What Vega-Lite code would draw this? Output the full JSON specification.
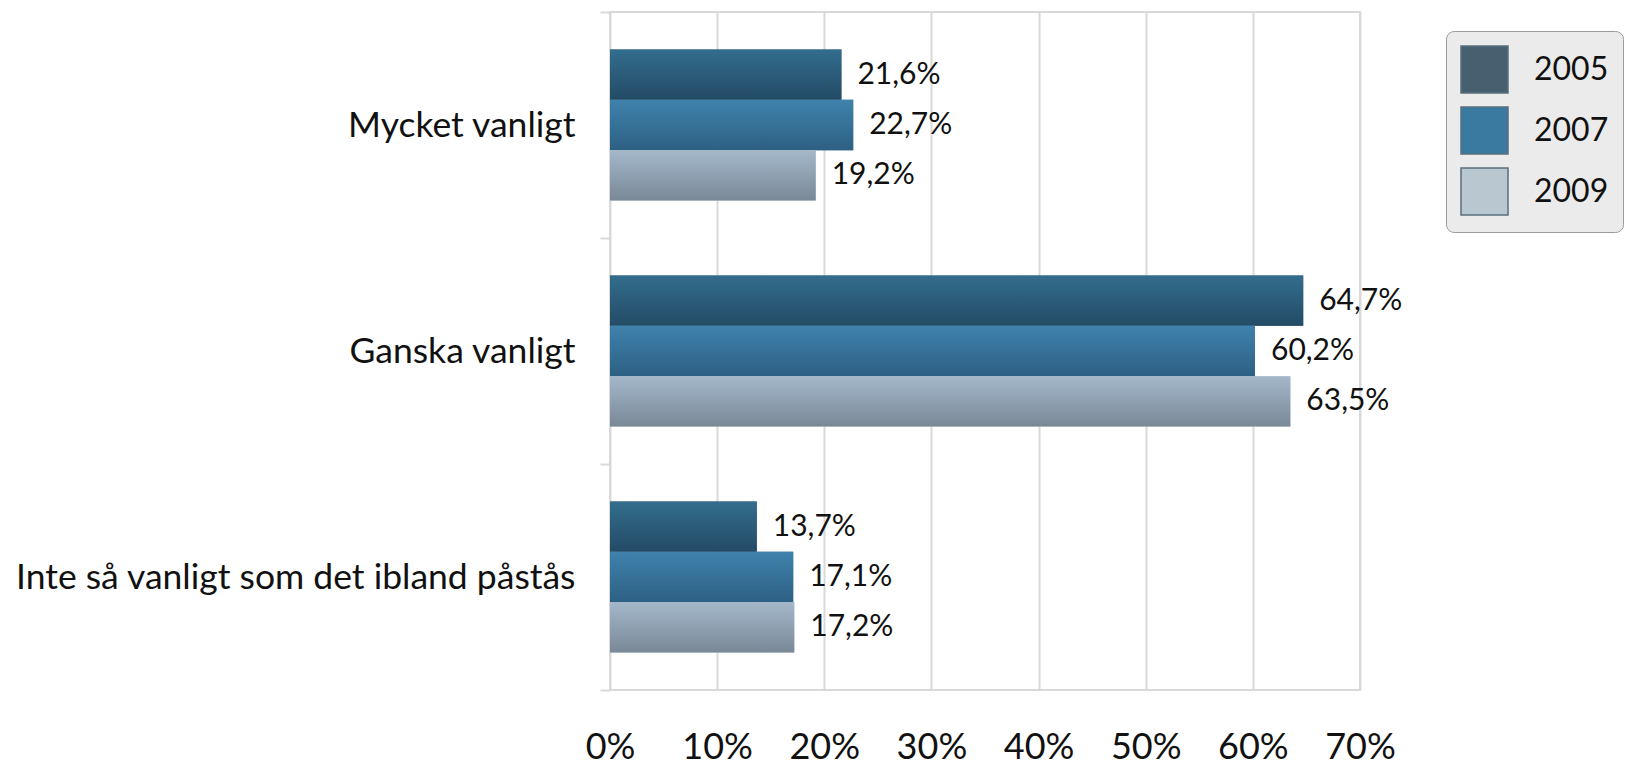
{
  "$schema": "https://vega.github.io/schema/vega-lite/v6.json",
  "autosize": {"type": "none"},
  "width": 750,
  "height": 678,
  "padding": {"left": 610, "top": 12, "right": 270, "bottom": 75},
  "background": "white",
  "config": {
    "locale": {"number": {"decimal": ",", "thousands": " ", "grouping": [3], "currency": ["", " kr"]}},
    "font": "Lato",
    "view": {"stroke": "#d9d9d9", "strokeWidth": 2}
  },
  "data": {
    "values": [
      {"category": "Mycket vanligt", "year": "2005", "value": 0.216},
      {"category": "Mycket vanligt", "year": "2007", "value": 0.227},
      {"category": "Mycket vanligt", "year": "2009", "value": 0.192},
      {"category": "Ganska vanligt", "year": "2005", "value": 0.647},
      {"category": "Ganska vanligt", "year": "2007", "value": 0.602},
      {"category": "Ganska vanligt", "year": "2009", "value": 0.635},
      {"category": "Inte så vanligt som det ibland påstås", "year": "2005", "value": 0.137},
      {"category": "Inte så vanligt som det ibland påstås", "year": "2007", "value": 0.171},
      {"category": "Inte så vanligt som det ibland påstås", "year": "2009", "value": 0.172}
    ]
  },
  "encoding": {
    "y": {
      "field": "category",
      "type": "nominal",
      "sort": ["Mycket vanligt", "Ganska vanligt", "Inte så vanligt som det ibland påstås"],
      "scale": {"paddingInner": 0, "paddingOuter": 0},
      "axis": {
        "title": null,
        "domain": false,
        "grid": false,
        "ticks": true,
        "tickBand": "extent",
        "tickColor": "#d9d9d9",
        "tickWidth": 2,
        "tickSize": 10,
        "labelFontSize": 35.5,
        "labelColor": "#111111",
        "labelPadding": 25,
        "labelLimit": 700
      }
    },
    "yOffset": {
      "field": "year",
      "type": "nominal",
      "scale": {"domain": ["2005", "2007", "2009"], "paddingInner": 0, "paddingOuter": 0.745}
    },
    "x": {
      "field": "value",
      "type": "quantitative",
      "scale": {"domain": [0, 0.7], "nice": false},
      "axis": {
        "title": null,
        "values": [0, 0.1, 0.2, 0.3, 0.4, 0.5, 0.6, 0.7],
        "format": ".0%",
        "domain": false,
        "ticks": false,
        "grid": true,
        "gridColor": "#d9d9d9",
        "gridWidth": 2,
        "labelFontSize": 36,
        "labelColor": "#111111",
        "labelPadding": 40,
        "labelFlush": false
      }
    }
  },
  "layer": [
    {
      "mark": {"type": "bar"},
      "encoding": {
        "color": {
          "field": "year",
          "type": "nominal",
          "scale": {"domain": ["2005", "2007", "2009"], "range": ["#46606f", "#3a7aa1", "#b9c7d0"]},
          "legend": {
            "title": null,
            "orient": "none",
            "legendX": 836,
            "legendY": 19,
            "symbolType": "square",
            "symbolSize": 2209,
            "symbolStrokeColor": "#5a6f7e",
            "symbolStrokeWidth": 1.5,
            "symbolOpacity": 1,
            "labelFontSize": 32,
            "labelColor": "#111111",
            "labelOffset": 25,
            "labelExpr": "datum.label + '          '",
            "rowPadding": 8,
            "padding": 14,
            "fillColor": "#ebebeb",
            "strokeColor": "#9a9a9a",
            "cornerRadius": 8
          }
        }
      }
    },
    {
      "transform": [{"filter": "datum.year === '2005'"}],
      "mark": {"type": "bar", "color": {"gradient": "linear", "x1": 0, "y1": 0, "x2": 0, "y2": 1, "stops": [{"offset": 0, "color": "#336d8e"}, {"offset": 1, "color": "#234b65"}]}},
      "encoding": {}
    },
    {
      "transform": [{"filter": "datum.year === '2007'"}],
      "mark": {"type": "bar", "color": {"gradient": "linear", "x1": 0, "y1": 0, "x2": 0, "y2": 1, "stops": [{"offset": 0, "color": "#3f82ac"}, {"offset": 1, "color": "#2d6083"}]}},
      "encoding": {}
    },
    {
      "transform": [{"filter": "datum.year === '2009'"}],
      "mark": {"type": "bar", "color": {"gradient": "linear", "x1": 0, "y1": 0, "x2": 0, "y2": 1, "stops": [{"offset": 0, "color": "#a4b8ca"}, {"offset": 1, "color": "#798897"}]}},
      "encoding": {}
    },
    {
      "mark": {"type": "text", "align": "left", "baseline": "middle", "dx": 16, "fontSize": 30, "color": "#111111"},
      "encoding": {
        "text": {"field": "value", "type": "quantitative", "format": ".1%"}
      }
    }
  ]
}
